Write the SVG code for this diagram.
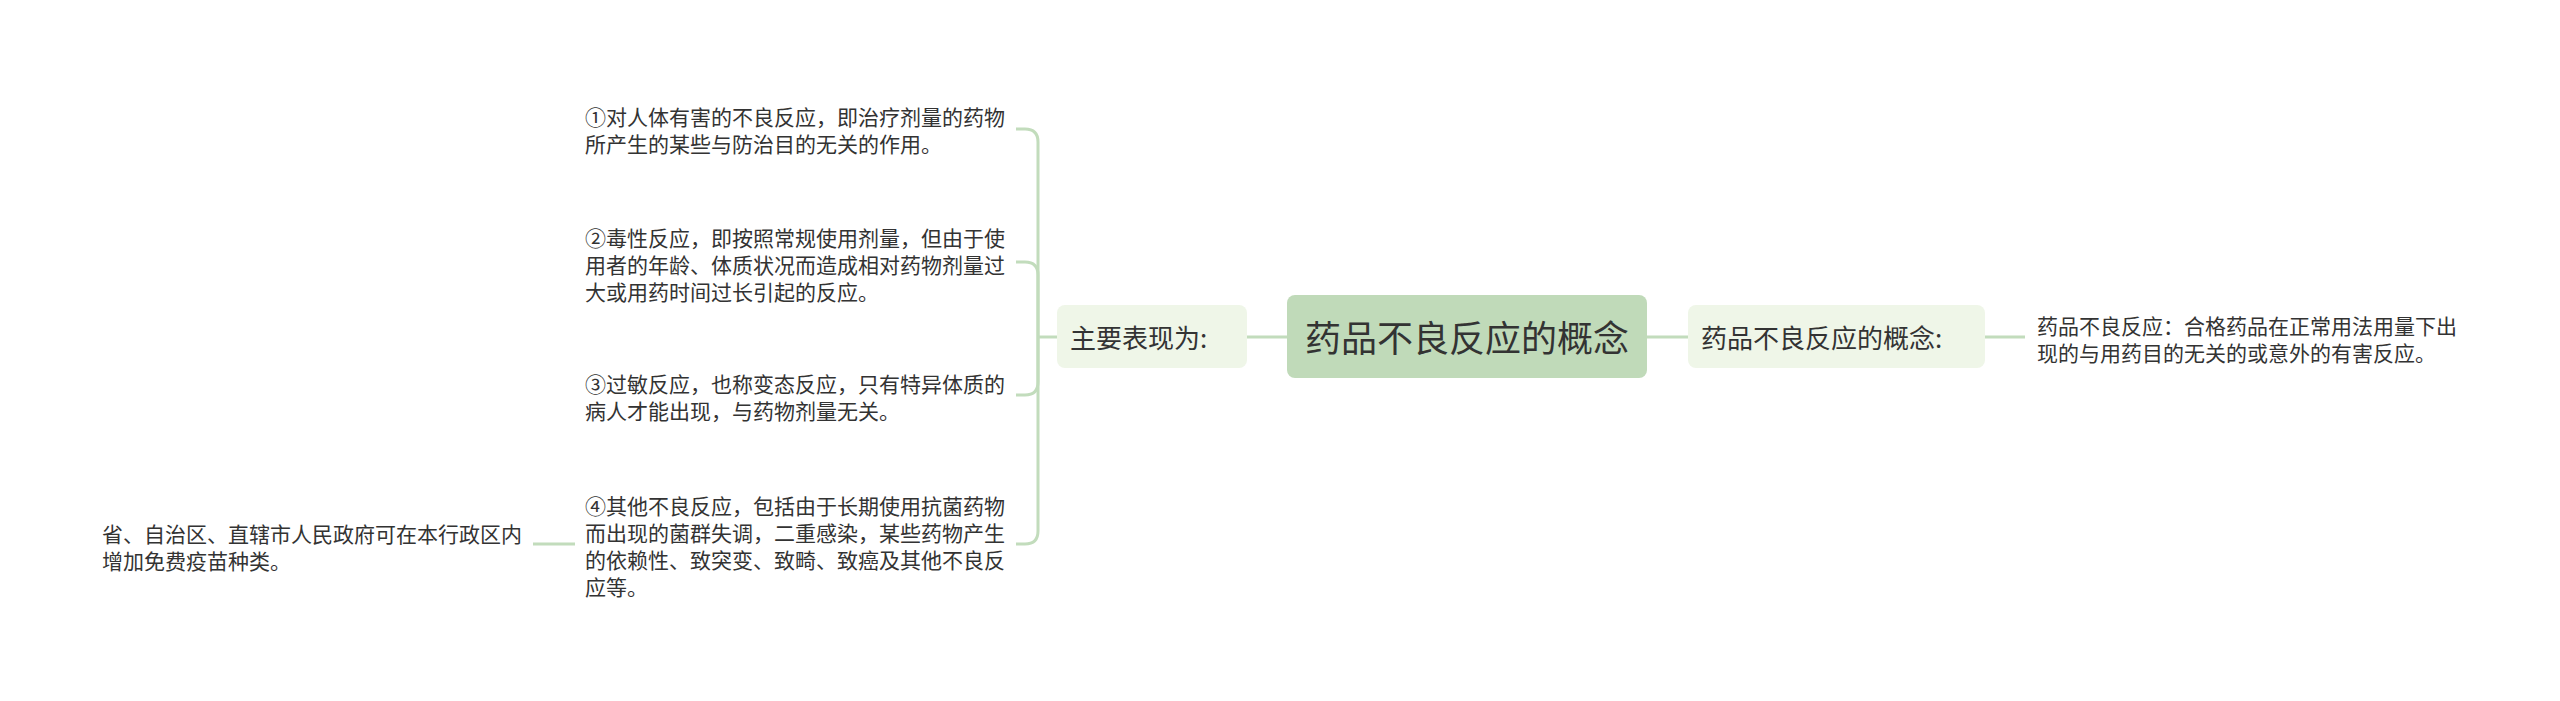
<svg xmlns="http://www.w3.org/2000/svg" width="2560" height="701" viewBox="0 0 2560 701">
<style>
text{font-family:"Noto Sans CJK SC","Noto Sans",sans-serif;fill:#333;dominant-baseline:central}
.leaf{font-size:21px}
.mid{font-size:26px}
.root{font-size:36px;text-anchor:middle}
.conn{fill:none;stroke:#c2dcbc;stroke-width:3}
</style>
<rect width="2560" height="701" fill="#ffffff"/>
<g id="connectors">
<line class="conn" x1="1247" y1="337" x2="1287" y2="337"/>
<line class="conn" x1="1647" y1="337" x2="1688" y2="337"/>
<line class="conn" x1="1985" y1="337" x2="2025" y2="337"/>
<line class="conn" x1="1057" y1="337" x2="1038" y2="337"/>
<path class="conn" d="M1038 337 V142 Q1038 129 1025 129 H1016"/>
<path class="conn" d="M1038 337 V275 Q1038 262 1025 262 H1016"/>
<path class="conn" d="M1038 337 V382 Q1038 395 1025 395 H1016"/>
<path class="conn" d="M1038 337 V531 Q1038 544 1025 544 H1016"/>
<line class="conn" x1="575" y1="544" x2="533" y2="544"/>
</g>
<g id="root">
<rect x="1287" y="295" width="360" height="83" rx="8" fill="#c0dab9"/>
<text class="root" x="1467" y="336">药品不良反应的概念</text>
</g>
<g id="concept">
<rect x="1688" y="305" width="297" height="63" rx="8" fill="#eff6e8"/>
<text class="mid" x="1701" y="336">药品不良反应的概念:</text>
</g>
<g id="main">
<rect x="1057" y="305" width="190" height="63" rx="8" fill="#eff6e8"/>
<text class="mid" x="1070" y="336">主要表现为:</text>
</g>
<g id="leaf-def">
<text class="leaf" x="2037" y="325">药品不良反应：合格药品在正常用法用量下出</text>
<text class="leaf" x="2037" y="352">现的与用药目的无关的或意外的有害反应。</text>
</g>
<g id="leaf-1">
<text class="leaf" x="585" y="116">①对人体有害的不良反应，即治疗剂量的药物</text>
<text class="leaf" x="585" y="143">所产生的某些与防治目的无关的作用。</text>
</g>
<g id="leaf-2">
<text class="leaf" x="585" y="237">②毒性反应，即按照常规使用剂量，但由于使</text>
<text class="leaf" x="585" y="264">用者的年龄、体质状况而造成相对药物剂量过</text>
<text class="leaf" x="585" y="291">大或用药时间过长引起的反应。</text>
</g>
<g id="leaf-3">
<text class="leaf" x="585" y="383">③过敏反应，也称变态反应，只有特异体质的</text>
<text class="leaf" x="585" y="410">病人才能出现，与药物剂量无关。</text>
</g>
<g id="leaf-4">
<text class="leaf" x="585" y="505">④其他不良反应，包括由于长期使用抗菌药物</text>
<text class="leaf" x="585" y="532">而出现的菌群失调，二重感染，某些药物产生</text>
<text class="leaf" x="585" y="559">的依赖性、致突变、致畸、致癌及其他不良反</text>
<text class="leaf" x="585" y="586">应等。</text>
</g>
<g id="leaf-5">
<text class="leaf" x="102" y="533">省、自治区、直辖市人民政府可在本行政区内</text>
<text class="leaf" x="102" y="560">增加免费疫苗种类。</text>
</g>
</svg>
